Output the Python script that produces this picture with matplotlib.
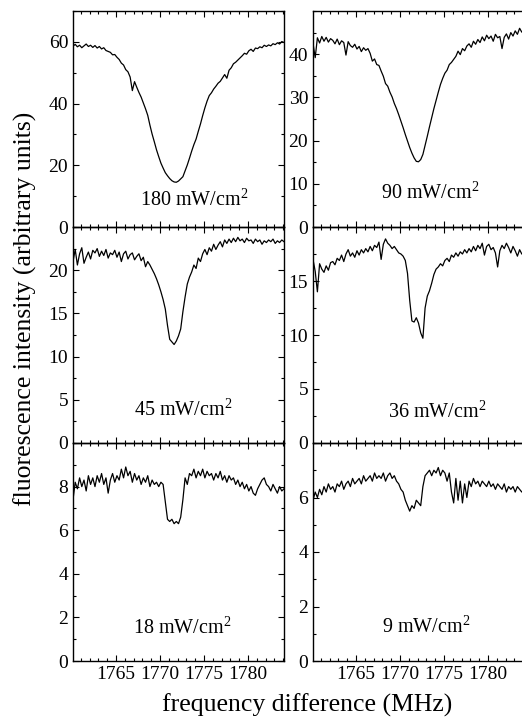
import numpy as np
import matplotlib
matplotlib.use("Agg")
import matplotlib.pyplot as plt
from matplotlib.ticker import MultipleLocator

# ---------------------- DATA ----------------------
# frequency grid shared by all six spectra (MHz)
FREQ = np.linspace(1760.1, 1784.1, 97)

INT_180 = [
    58.6, 59.2, 58.4, 58.9, 58.1, 58.7, 59.3, 58.5, 58.9, 58.2,
    58.8, 58.0, 58.5, 57.7, 58.1, 57.2, 56.9, 56.6, 55.8, 55.9,
    55.0, 54.3, 53.1, 52.5, 51.0, 50.3, 48.6, 44.2, 47.1, 45.3,
    43.6, 42.1, 40.2, 38.3, 36.2, 33.0, 30.1, 27.6, 25.0, 22.8,
    20.7, 19.1, 17.6, 16.6, 15.7, 15.0, 14.6, 14.5, 14.9, 15.6,
    16.3, 18.2, 20.1, 22.3, 24.6, 26.7, 28.5, 31.0, 33.4, 36.1,
    38.6, 40.8, 42.6, 43.5, 44.7, 45.6, 46.6, 47.2, 48.3, 49.4,
    48.2, 50.8, 51.6, 52.9, 53.4, 54.1, 54.8, 55.5, 56.3, 56.0,
    57.1, 57.6, 56.9, 58.0, 57.8, 58.4, 58.1, 58.9, 58.5, 59.0,
    58.7, 59.4, 59.1, 59.7, 59.3, 60.1, 59.8,
]

INT_90 = [
    42.5, 39.2, 43.8, 42.6, 44.1, 43.0, 43.9, 42.8, 43.6, 43.2,
    42.4, 43.5, 42.2, 43.1, 42.7, 39.8, 42.9, 42.0, 41.6, 42.3,
    41.2, 41.8, 40.6, 41.5, 40.9, 41.3, 40.2, 38.4, 38.9, 37.6,
    37.4, 36.1, 34.9, 33.2, 32.6, 31.2, 30.1, 28.6, 27.4, 26.0,
    24.5, 23.0, 21.4, 19.9, 18.4, 17.1, 16.0, 15.2, 15.1, 15.6,
    16.8, 18.9, 21.0, 23.2, 25.3, 27.4, 29.3, 31.2, 33.0, 34.4,
    35.6, 36.3, 37.6, 38.1, 38.8, 39.5, 40.7, 39.9, 41.3, 40.8,
    41.9, 42.4, 41.6, 43.0, 42.3, 43.4, 42.7, 44.0, 43.1, 44.4,
    43.6, 44.2, 43.0, 44.6, 43.8, 44.1, 41.3, 43.9, 44.7, 43.5,
    45.0, 44.2, 45.4, 44.6, 46.0, 45.1, 45.7,
]

INT_45 = [
    21.0, 22.4, 20.6, 21.9, 22.6, 20.8, 21.5, 22.1, 21.3, 22.3,
    22.0, 22.5, 21.6, 22.2, 21.7, 22.4, 21.4, 22.0, 21.8, 22.3,
    21.5, 22.1, 21.0, 21.9, 22.2, 21.3, 21.8, 22.0, 21.2, 21.6,
    21.9, 21.1, 21.5, 20.4, 21.0, 20.6, 20.1, 19.6, 19.0, 18.3,
    17.5, 16.6, 15.5, 13.6, 12.0, 11.7, 11.4, 11.8, 12.4, 13.2,
    15.2, 16.9, 18.4, 19.2, 19.8, 20.6, 20.2, 21.4, 21.0, 21.9,
    22.4, 21.8, 22.6, 22.2, 23.0, 22.4, 22.9, 23.3, 22.7, 23.5,
    23.1, 23.6, 23.2, 23.7, 23.3, 23.8, 23.4, 23.6, 23.2, 23.7,
    23.4, 23.5, 23.1, 23.6, 23.3, 23.5, 23.0, 23.4, 23.2, 23.5,
    23.3, 23.6, 23.1, 23.4, 23.2, 23.5, 23.3,
]

INT_36 = [
    17.0, 15.9, 14.0, 16.6, 16.1, 15.8, 16.4, 16.0, 16.7, 16.8,
    16.5, 17.1, 16.9, 17.4, 16.8, 17.5, 17.9, 17.3, 17.6, 17.2,
    17.8, 17.4, 17.9, 17.6, 18.0, 17.7, 18.2, 17.8, 18.3, 18.1,
    18.6, 17.0, 18.4, 18.9, 18.5, 18.3, 18.0, 18.2, 17.9, 17.6,
    17.5, 17.3, 16.9, 15.7, 13.2, 11.3, 11.2, 11.6, 11.1, 10.2,
    9.7, 12.5, 13.6, 14.1, 14.8, 15.6, 16.1, 16.3, 16.6, 16.4,
    16.9, 17.1, 16.8, 17.4, 17.2, 17.6, 17.3, 17.7, 17.5, 17.9,
    17.6, 18.0, 17.7, 18.2, 17.8, 18.3, 18.0, 18.5, 17.4, 18.2,
    18.4, 17.9, 18.1, 17.6, 16.3, 17.8, 18.3, 18.0, 18.5, 18.1,
    17.6, 18.2, 17.8, 17.3, 17.9, 17.5, 17.4,
]

INT_18 = [
    7.4, 8.2, 7.9, 8.4, 8.0, 8.3, 7.8, 8.5, 8.1, 8.4,
    8.0, 8.5, 8.2, 8.6, 8.1, 8.4, 7.7, 8.3, 8.6, 8.2,
    8.5, 8.3, 8.8, 8.4, 8.9, 8.5, 8.7, 8.2, 8.6, 8.3,
    8.5, 8.1, 8.4, 8.2, 8.5, 8.0, 8.3, 8.1, 8.2, 8.0,
    8.2, 8.1, 7.3, 6.5, 6.4, 6.5, 6.3, 6.4, 6.3, 6.6,
    7.4, 8.4, 8.1, 8.6, 8.5, 8.8, 8.4, 8.7, 8.5, 8.8,
    8.4, 8.7, 8.5, 8.6, 8.3, 8.6, 8.4, 8.7, 8.3, 8.5,
    8.2, 8.5, 8.3, 8.4, 8.1, 8.3, 8.0, 8.2, 7.9, 8.1,
    7.8, 8.0, 7.7, 7.6, 7.9, 8.1, 8.3, 8.4, 8.1, 8.0,
    7.8, 8.1, 7.9, 7.7, 8.0, 7.8, 7.9,
]

INT_9 = [
    5.9, 6.2, 6.0, 6.3, 6.1, 6.4, 6.2, 6.5, 6.3, 6.4,
    6.2, 6.5, 6.4, 6.6, 6.3, 6.5, 6.6, 6.4, 6.7, 6.5,
    6.6, 6.7, 6.5, 6.8, 6.6, 6.7, 6.8, 6.6, 6.9, 6.7,
    6.8, 6.7, 6.9, 6.6, 6.8, 6.9, 6.7, 6.8, 6.6, 6.5,
    6.3, 6.2, 5.9, 5.7, 5.5, 5.7, 5.6, 5.9, 5.8, 5.7,
    6.4, 6.8, 6.9, 7.0, 6.8, 7.0, 6.9, 7.1, 6.8, 7.0,
    6.9, 6.6, 6.9, 6.2, 5.8, 6.7, 5.9, 6.6, 5.8, 6.5,
    6.0, 6.6, 6.4, 6.7, 6.5, 6.6, 6.4, 6.6, 6.5, 6.4,
    6.6, 6.4, 6.5, 6.3, 6.5, 6.4, 6.3, 6.5, 6.2, 6.4,
    6.3, 6.4, 6.2, 6.4, 6.3, 6.2, 6.3,
]

LABELS = ["180", "90", "45", "36", "18", "9"]
SERIES = [INT_180, INT_90, INT_45, INT_36, INT_18, INT_9]
YMAX = [70, 50, 25, 20, 10, 8]
YSTEP = [20, 10, 5, 5, 2, 2]
XTICKS = [1765, 1770, 1775, 1780]
# --------------------------------------------------

plt.rcParams["font.family"] = ["Liberation Serif", "DejaVu Serif"]
plt.rcParams["mathtext.fontset"] = "custom"
plt.rcParams["mathtext.rm"] = "Liberation Serif"

W, H = 522, 721
fig = plt.figure(figsize=(W / 100, H / 100), dpi=100)

# panel boxes in pixels: (left, right) per column, (top, bottom) per row
col_x = [(73, 284), (313, 524)]
row_y = [(11, 227), (227, 443), (443, 661)]
# label centre inside each panel, as axes fractions
label_pos = [(0.573, 0.125), (0.555, 0.157), (0.52, 0.153),
             (0.588, 0.144), (0.519, 0.151), (0.535, 0.156)]

for k in range(6):
    r, c = divmod(k, 2)
    x0, x1 = col_x[c]
    y0, y1 = row_y[r]
    ax = fig.add_axes([x0 / W, 1 - y1 / H, (x1 - x0) / W, (y1 - y0) / H])
    ax.patch.set_alpha(0)

    ax.plot(FREQ, SERIES[k], color="black", linewidth=0.9)
    ax.set_xlim(1760.1, 1784.1)
    ax.set_ylim(0, YMAX[k])

    ax.set_xticks(XTICKS)
    ax.xaxis.set_minor_locator(MultipleLocator(1))
    ax.set_yticks(list(np.arange(0, YMAX[k], YSTEP[k])))
    ax.yaxis.set_minor_locator(MultipleLocator(YSTEP[k] / 2))

    # right-hand column runs off the page edge, so no ticks on its far side
    ax.tick_params(which="both", direction="in", top=True, right=(c == 0),
                   width=0.8, labelsize=14, colors="black")
    ax.tick_params(which="major", length=4)
    ax.tick_params(which="minor", length=2.2)
    if r < 2:
        ax.tick_params(labelbottom=False)
    for sp in ax.spines.values():
        sp.set_linewidth(1.0)

    lx, ly = label_pos[k]
    ax.text(lx, ly, LABELS[k] + r" mW/cm$^{2}$", transform=ax.transAxes,
            ha="center", va="center", fontsize=14.5)

fig.text(25 / W, 1 - 309 / H, "fluorescence intensity (arbitrary units)",
         rotation=90, ha="center", va="center", fontsize=18.5)
fig.text(307 / W, 1 - 705 / H, "frequency difference (MHz)",
         ha="center", va="center", fontsize=18.5)

fig.savefig("out.png", dpi=100)
